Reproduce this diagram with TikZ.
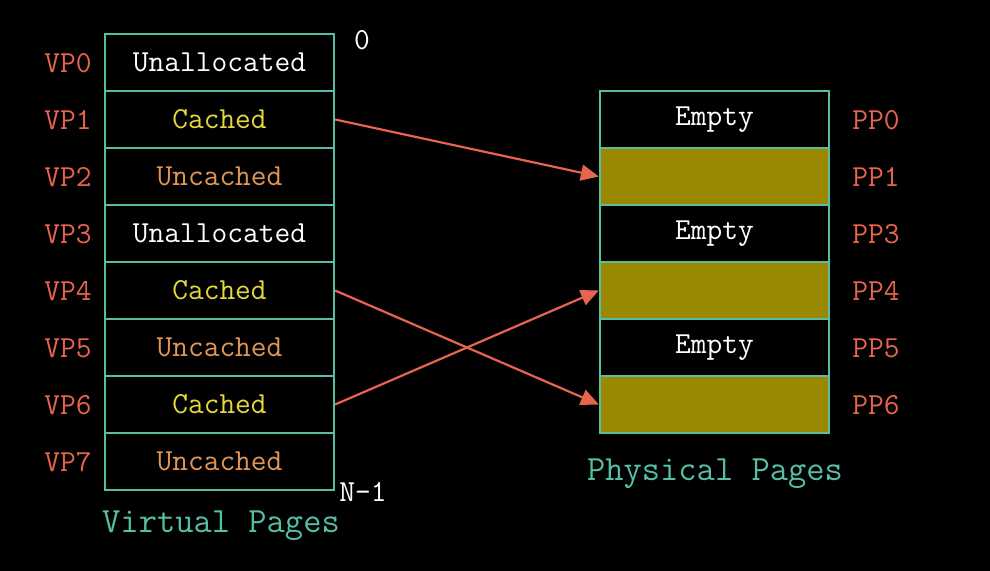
\documentclass[tikz,border=0pt]{standalone}
\usepackage{tikz}
\usetikzlibrary{arrows.meta,positioning}
\definecolor{pageteal}{RGB}{86,190,164}
\definecolor{labelred}{RGB}{232,100,78}
\definecolor{cachedyellow}{RGB}{228,216,60}
\definecolor{uncachedorange}{RGB}{226,150,84}
\definecolor{frameolive}{RGB}{153,136,0}
\newcommand\cellfont{\fontsize{17.4}{20}\selectfont\ttfamily}
\newcommand\titlefont{\fontsize{20.2}{24}\selectfont\ttfamily}

\begin{document}
\begin{tikzpicture}[x=0.02cm,y=-0.02cm,>={Triangle[length=0.36cm,width=0.32cm]},
  cell/.style={draw=pageteal,line width=1.3pt,minimum width=4.58cm,minimum height=1.14cm,
    inner sep=0pt,font=\cellfont},
  pagelabel/.style={labelred,font=\cellfont},
  link/.style={->,labelred,line width=1.25pt}]
  \fill[black] (0,0) rectangle (990,571);
  % virtual pages
  \foreach \i/\txt/\col in {0/Unallocated/white,1/Cached/cachedyellow,2/Uncached/uncachedorange,
      3/Unallocated/white,4/Cached/cachedyellow,5/Uncached/uncachedorange,
      6/Cached/cachedyellow,7/Uncached/uncachedorange}{
    \node[cell,text=\col] (vp\i) at (219.5,62.5+57*\i) {\txt};
    \node[pagelabel] (vl\i) at (68,63+57*\i) {VP\i};
  }
  % physical pages
  \foreach \k/\j/\txt/\fil in {0/0/Empty/black,1/1/{}/frameolive,2/3/Empty/black,
      3/4/{}/frameolive,4/5/Empty/black,5/6/{}/frameolive}{
    \node[cell,fill=\fil,text=white] (pp\j) at (714.5,119.5+57*\k) {\txt};
    \node[pagelabel] (pl\j) at (876,120+57*\k) {PP\j};
  }
  \node[white,font=\cellfont] (top) at (362,40) {0};
  \node[white,font=\cellfont] (bottom) at (363,492) {N-1};
  \node[pageteal,font=\titlefont] (vtitle) at (221,526) {Virtual Pages};
  \node[pageteal,font=\titlefont] (ptitle) at (715,474) {Physical Pages};
  \draw[link] (vp1.east) -- (pp1.west);
  \draw[link] (vp4.east) -- (pp6.west);
  \draw[link] (vp6.east) -- (pp4.west);
\end{tikzpicture}
\end{document}
